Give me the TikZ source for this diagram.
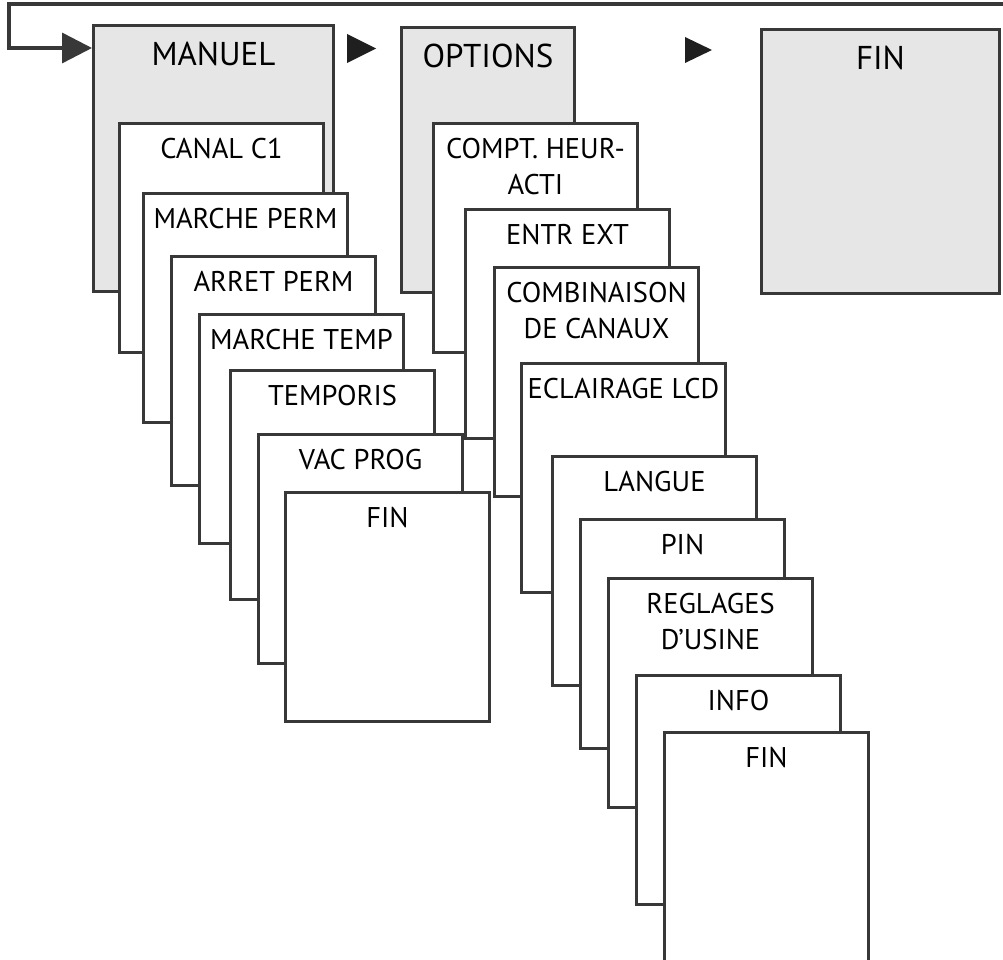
\documentclass[tikz,border=0pt]{standalone}
\usepackage{fontspec}
\setmainfont{PT Sans}
\usetikzlibrary{positioning}
\usetikzlibrary{arrows.meta}
\definecolor{framegray}{HTML}{383838}
\definecolor{menugray}{HTML}{E6E6E6}

\begin{document}
\begin{tikzpicture}[
			x=1pt, y=-1pt,
			menu/.style={draw=framegray, line width=3pt, fill=menugray, anchor=north west, inner sep=0pt},
			menulabel/.style={anchor=north, inner sep=0pt, yshift=-18pt, font=\fontsize{33}{40}\selectfont},
			item/.style={draw=framegray, line width=3pt, fill=white, anchor=north west, inner sep=0pt, minimum width=204pt, minimum height=229pt},
			itemlabel/.style={anchor=north, inner sep=0pt, yshift=-16pt, align=center, font=\fontsize{28.5}{36.5}\selectfont},
			loopline/.style={draw=framegray, line width=3.5pt, -{Triangle[length=30pt, width=30pt]}},
			tip/.style={fill=black!88}
			]
			\useasboundingbox (0,0) rectangle (1003,960);
			
			% Main menus
			\node[menu, minimum width=240pt, minimum height=266pt, label={[menulabel]north:MANUEL}] (manuel) at (92,24) {};
			\node[menu, minimum width=173pt, minimum height=265pt, label={[menulabel]north:OPTIONS}] (options) at (400,26) {};
			\node[menu, minimum width=238pt, minimum height=264pt, label={[menulabel]north:FIN}] (fin) at (760,28) {};
			
			% MANUEL items
			\node[item, label={[itemlabel]north:CANAL C1}] (canal) at (118,122) {};
			\node[item, label={[itemlabel]north:MARCHE PERM}] (marcheperm) at (142,192) {};
			\node[item, label={[itemlabel]north:ARRET PERM}] (arretperm) at (170,255) {};
			\node[item, label={[itemlabel]north:MARCHE TEMP}] (marchetemp) at (198,313) {};
			\node[item, label={[itemlabel]north:TEMPORIS}] (temporis) at (229,369) {};
			\node[item, label={[itemlabel]north:VAC PROG}] (vacprog) at (257,433) {};
			\node[item, label={[itemlabel]north:FIN}] (finmanuel) at (284,491) {};
			
			% OPTIONS items
			\node[item, label={[itemlabel]north:{COMPT. HEUR-\\ACTI}}] (compteur) at (432,122) {};
			\node[item, label={[itemlabel]north:ENTR EXT}] (entrext) at (464,208) {};
			\node[item, label={[itemlabel]north:{COMBINAISON\\DE CANAUX}}] (combinaison) at (493,266) {};
			\node[item, label={[itemlabel]north:ECLAIRAGE LCD}] (eclairage) at (520,362) {};
			\node[item, label={[itemlabel]north:LANGUE}] (langue) at (551,455) {};
			\node[item, label={[itemlabel]north:PIN}] (pin) at (579,518) {};
			\node[item, label={[itemlabel]north:{REGLAGES\\D'USINE}}] (reglages) at (607,577) {};
			\node[item, label={[itemlabel]north:INFO}] (info) at (635,674) {};
			\node[item, label={[itemlabel]north:FIN}] (finoptions) at (663,731) {};
			
			% Arrows
			\coordinate (loopstart) at (1010,4);
			\coordinate (loopcorner) at (9,4);
			\draw[loopline] (loopstart) -- (loopcorner) |- ([yshift=-24pt]manuel.north west);
			\fill[tip] (347,34) -- (376,48.5) -- (347,63) -- cycle;
			\fill[tip] (685,37) -- (712,50) -- (685,63) -- cycle;
		\end{tikzpicture}
\end{document}
